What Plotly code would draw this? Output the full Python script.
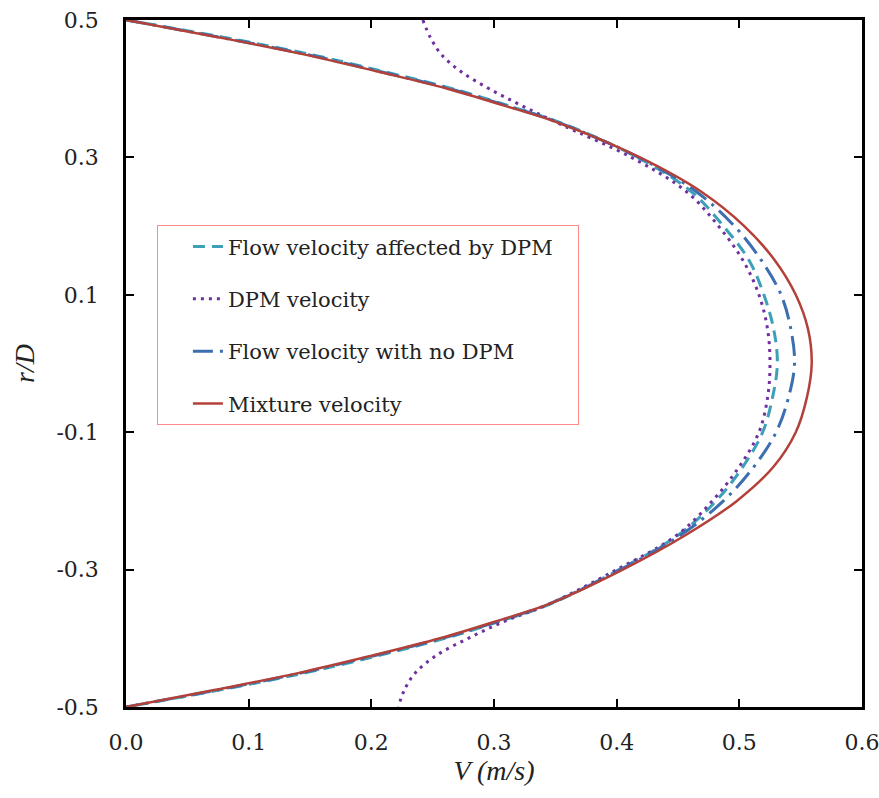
import plotly.graph_objects as go

# r/D positions (shared by all series)
r_d = [0.5, 0.475, 0.45, 0.425, 0.4, 0.375, 0.35, 0.3, 0.25, 0.2, 0.15, 0.1, 0.05, 0.0,
       -0.05, -0.1, -0.15, -0.2, -0.25, -0.3, -0.35, -0.375, -0.4, -0.425, -0.45, -0.475, -0.5]

v_flow_dpm = [0.0, 0.079, 0.150, 0.210, 0.266, 0.312, 0.355, 0.417, 0.461, 0.487, 0.508, 0.520, 0.528, 0.531,
              0.527, 0.519, 0.503, 0.481, 0.450, 0.402, 0.346, 0.305, 0.260, 0.206, 0.147, 0.077, 0.0]
v_dpm = [0.242, 0.248, 0.257, 0.273, 0.296, 0.323, 0.352, 0.412, 0.457, 0.483, 0.503, 0.516, 0.523, 0.525,
         0.523, 0.516, 0.500, 0.478, 0.449, 0.400, 0.345, 0.309, 0.279, 0.253, 0.236, 0.227, 0.222]
v_flow_nodpm = [0.0, 0.076, 0.147, 0.207, 0.264, 0.311, 0.354, 0.418, 0.465, 0.496, 0.518, 0.534, 0.542, 0.545,
                0.540, 0.530, 0.512, 0.487, 0.452, 0.403, 0.345, 0.304, 0.258, 0.203, 0.144, 0.075, 0.0]
v_mixture = [0.0, 0.075, 0.145, 0.205, 0.262, 0.309, 0.353, 0.419, 0.469, 0.504, 0.529, 0.546, 0.556, 0.559,
             0.555, 0.546, 0.528, 0.498, 0.456, 0.405, 0.345, 0.302, 0.256, 0.201, 0.142, 0.073, 0.0]

names = ["Flow velocity affected by DPM\u00a0\u00a0\u00a0", "DPM velocity", "Flow velocity with no DPM", "Mixture velocity"]
series = [v_flow_dpm, v_dpm, v_flow_nodpm, v_mixture]
colors = ["#3ba0b8", "#7030a0", "#3c6eb0", "#b3413a"]
dashes = ["12px,7px", "3px,5px", "20px,7px,3px,7px", "solid"]
widths = [3, 3, 3, 2.5]

SERIF = "DejaVu Serif"
TITLE_FONT = "Liberation Serif"

fig = go.Figure()
for i, (nm, v) in enumerate(zip(names, series)):
    fig.add_trace(go.Scatter(
        x=v, y=r_d, mode="lines", name=nm, legendgroup=f"g{i}",
        line=dict(color=colors[i], width=widths[i], dash=dashes[i], shape="spline", smoothing=1.0),
    ))

fig.update_layout(
    template="none",
    width=879, height=798,
    margin=dict(l=126, r=17, t=20, b=91),
    paper_bgcolor="white", plot_bgcolor="white",
    font=dict(family=SERIF, color="#222222"),
    showlegend=True,
    legend=dict(
        x=0.042, y=0.701, xanchor="left", yanchor="top",
        bordercolor="#ff8a8a", borderwidth=1, bgcolor="white",
        font=dict(family=SERIF, size=21, color="#222222"),
        traceorder="grouped", tracegroupgap=22, indentation=30,
    ),
)
fig.update_xaxes(
    range=[0, 0.6], tickvals=[0, 0.1, 0.2, 0.3, 0.4, 0.5, 0.6], tickformat=".1f",
    showgrid=False, zeroline=False,
    showline=True, linecolor="black", linewidth=2.5, mirror="ticks",
    ticks="inside", ticklen=8, tickwidth=2, tickcolor="black",
    tickfont=dict(family=SERIF, size=22, color="#222222"), ticklabelstandoff=14,
    ticklabeloverflow="allow",
    title=dict(text="<i>V (m/s)</i>", font=dict(family=TITLE_FONT, size=28, color="#222222"), standoff=6),
)
fig.update_yaxes(
    range=[-0.5, 0.5], tickvals=[-0.5, -0.3, -0.1, 0.1, 0.3, 0.5],
    ticktext=["-0.5", "-0.3", "-0.1", "0.1", "0.3", "0.5"],
    showgrid=False, zeroline=False,
    showline=True, linecolor="black", linewidth=2.5, mirror="ticks",
    ticks="inside", ticklen=8, tickwidth=2, tickcolor="black",
    tickfont=dict(family=SERIF, size=22, color="#222222"), ticklabelstandoff=20,
    title=dict(text="<i>r/D</i>", font=dict(family=TITLE_FONT, size=28, color="#222222"), standoff=14),
)

fig.write_html("out.html")
